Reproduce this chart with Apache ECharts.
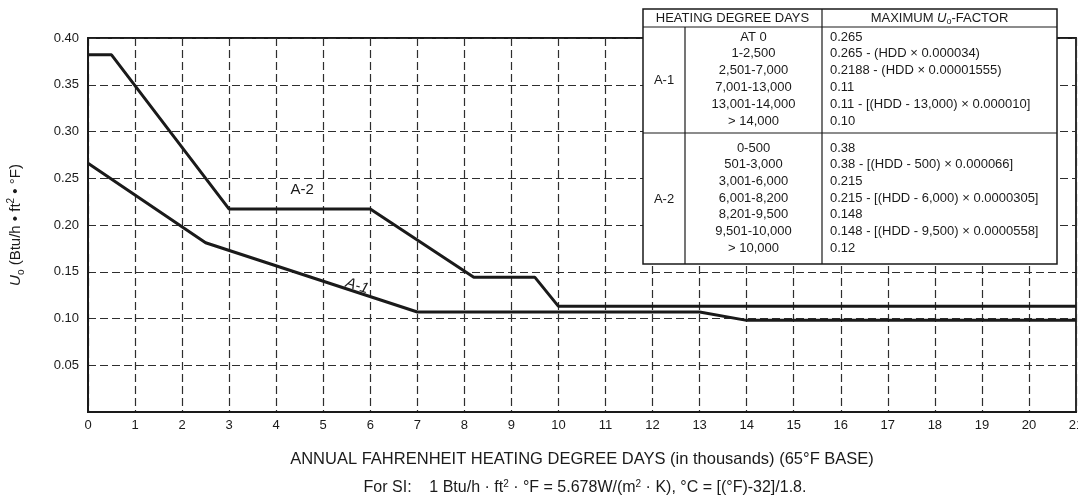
<!DOCTYPE html>
<html>
<head>
<meta charset="utf-8">
<script src="https://cdn.jsdelivr.net/npm/echarts@6/dist/echarts.min.js"></script>
<style>
html,body{margin:0;padding:0;background:#fff;}
#chart{width:1078px;height:499px;}
</style>
</head>
<body>
<div id="chart"></div>
<script>
// ---- data ----
const xTicks = [0,1,2,3,4,5,6,7,8,9,10,11,12,13,14,15,16,17,18,19,20,21];
const yTicks = [0,0.05,0.10,0.15,0.20,0.25,0.30,0.35,0.40];

const a1X = [0, 2.5, 7, 13, 14, 21];
const a1Y = [0.266, 0.181, 0.107, 0.107, 0.098, 0.098];
const a2X = [0, 0.5, 3, 6, 8.2, 9.5, 10, 21];
const a2Y = [0.382, 0.382, 0.217, 0.217, 0.144, 0.144, 0.113, 0.113];

const labelA1 = {text: 'A-1', x: 5.72, y: 0.1348};
const labelA2 = {text: 'A-2', x: 4.55, y: 0.2374};

const a1Ranges = ['AT 0','1-2,500','2,501-7,000','7,001-13,000','13,001-14,000','> 14,000'];
const a1Factors = ['0.265','0.265 - (HDD × 0.000034)','0.2188 - (HDD × 0.00001555)','0.11','0.11 - [(HDD - 13,000) × 0.000010]','0.10'];
const a2Ranges = ['0-500','501-3,000','3,001-6,000','6,001-8,200','8,201-9,500','9,501-10,000','> 10,000'];
const a2Factors = ['0.38','0.38 - [(HDD - 500) × 0.000066]','0.215','0.215 - [(HDD - 6,000) × 0.0000305]','0.148','0.148 - [(HDD - 9,500) × 0.0000558]','0.12'];

const xTitle = 'ANNUAL FAHRENHEIT HEATING DEGREE DAYS (in thousands) (65°F BASE)';

// ---- chart ----
const FONT = '"Liberation Sans", Arial, Helvetica, sans-serif';
const INK = '#1a1a1a';
const chart = echarts.init(document.getElementById('chart'), null, {renderer: 'canvas'});

function zip(xs, ys){ return xs.map((x,i)=>[x, ys[i]]); }

const gridDash = {color: '#2e2e2e', width: 1.2, type: [8, 4]};

// table geometry (layout only)
const T = {l: 643, t: 9, r: 1057, b: 264, hdr: 27, c1: 685, c2: 822, mid: 133};
const TF = '13px ' + FONT;
const tbl = [];
tbl.push({type:'rect', z:100, shape:{x:T.l, y:T.t, width:T.r-T.l, height:T.b-T.t}, style:{fill:'#fff', stroke:INK, lineWidth:1.5}});
tbl.push({type:'line', z:101, shape:{x1:T.l, y1:T.hdr, x2:T.r, y2:T.hdr}, style:{stroke:INK, lineWidth:1.2}});
tbl.push({type:'line', z:101, shape:{x1:T.l, y1:T.mid, x2:T.r, y2:T.mid}, style:{stroke:INK, lineWidth:1.2}});
tbl.push({type:'line', z:101, shape:{x1:T.c2, y1:T.t, x2:T.c2, y2:T.b}, style:{stroke:INK, lineWidth:1.2}});
tbl.push({type:'line', z:101, shape:{x1:T.c1, y1:T.hdr, x2:T.c1, y2:T.b}, style:{stroke:INK, lineWidth:1.2}});
function txt(t, x, y, align){
  return {type:'text', z:102, style:{text:t, x:x, y:y, fill:INK, font:TF, textAlign:align||'center', textVerticalAlign:'middle'}};
}
tbl.push(txt('HEATING DEGREE DAYS', (T.l+T.c2)/2, 18.5));
tbl.push({type:'text', z:102, style:{text:'{n|MAXIMUM }{i|U}{s|o}{n|-FACTOR}', x:(T.c2+T.r)/2, y:18.5, fill:INK, textAlign:'center', textVerticalAlign:'middle',
  rich:{n:{font:TF, fill:INK, lineHeight:16}, i:{font:'italic '+TF, fill:INK, lineHeight:16}, s:{font:'9px '+FONT, fill:INK, lineHeight:9, verticalAlign:'bottom'}}}});
tbl.push(txt('A-1', (T.l+T.c1)/2, 80));
tbl.push(txt('A-2', (T.l+T.c1)/2, 199));
a1Ranges.forEach((r,i)=>{ tbl.push(txt(r, (T.c1+T.c2)/2, 37 + i*16.8)); tbl.push(txt(a1Factors[i], 830, 37 + i*16.8, 'left')); });
a2Ranges.forEach((r,i)=>{ tbl.push(txt(r, (T.c1+T.c2)/2, 148 + i*16.7)); tbl.push(txt(a2Factors[i], 830, 148 + i*16.7, 'left')); });

// SI note
tbl.push({type:'text', z:50, style:{
  text:'{n|For SI:    1 Btu/h · ft}{p|2}{n| · °F = 5.678W/(m}{p|2}{n| · K), °C = [(°F)-32]/1.8.}',
  x: 585, y: 488, textAlign:'center', textVerticalAlign:'middle',
  rich:{n:{font:'16px '+FONT, fill:INK, lineHeight:18}, p:{font:'10px '+FONT, fill:INK, lineHeight:10, verticalAlign:'top'}}}});

const option = {
  backgroundColor: '#fff',
  animation: false,
  textStyle: {fontFamily: FONT},
  grid: {left: 88, right: 2, top: 38, bottom: 87, containLabel: false, outerBoundsMode: 'none',
         show: true, borderColor: INK, borderWidth: 1.8, backgroundColor: 'transparent'},
  xAxis: {
    type: 'value', min: xTicks[0], max: xTicks[xTicks.length-1], interval: 1,
    axisLine: {show: true, lineStyle: {color: INK, width: 2}},
    axisTick: {show: false},
    axisLabel: {color: INK, fontSize: 13, margin: 7, fontFamily: FONT, showMaxLabel: true, showMinLabel: true},
    splitLine: {show: true, lineStyle: gridDash},
    name: xTitle, nameLocation: 'middle', nameGap: 39,
    nameTextStyle: {color: INK, fontSize: 16.5, fontFamily: FONT}
  },
  yAxis: {
    type: 'value', min: yTicks[0], max: yTicks[yTicks.length-1], interval: 0.05,
    axisLine: {show: true, lineStyle: {color: INK, width: 2}},
    axisTick: {show: false},
    axisLabel: {color: INK, fontSize: 13, margin: 9, fontFamily: FONT,
      formatter: v => (Math.abs(v) < 1e-9 ? '' : v.toFixed(2))},
    splitLine: {show: true, lineStyle: gridDash},
    name: '{i|U}{s|o}{n| (Btu/h • ft}{p|2}{n| • °F)}', nameLocation: 'middle', nameRotate: 90, nameGap: 62,
    nameTextStyle: {color: INK, fontFamily: FONT,
      rich: {
        n: {fontSize: 15, color: INK, lineHeight: 20, fontFamily: FONT},
        i: {fontSize: 15, color: INK, lineHeight: 20, fontStyle: 'italic', fontFamily: FONT},
        s: {fontSize: 10, color: INK, lineHeight: 10, verticalAlign: 'bottom', fontFamily: FONT},
        p: {fontSize: 10, color: INK, lineHeight: 10, verticalAlign: 'top', fontFamily: FONT}
      }}
  },
  series: [
    {
      name: 'A-1', type: 'line', data: zip(a1X, a1Y), symbol: 'none', z: 5,
      lineStyle: {color: INK, width: 3}, smooth: false,
      markPoint: {symbol: 'circle', symbolSize: 1, itemStyle: {color: 'rgba(0,0,0,0)'},
        label: {show: true, position: 'inside', formatter: labelA1.text, color: INK, fontSize: 15, fontStyle: 'italic', rotate: -17, fontFamily: FONT},
        data: [{coord: [labelA1.x, labelA1.y]}]}
    },
    {
      name: 'A-2', type: 'line', data: zip(a2X, a2Y), symbol: 'none', z: 5,
      lineStyle: {color: INK, width: 3}, smooth: false,
      markPoint: {symbol: 'circle', symbolSize: 1, itemStyle: {color: 'rgba(0,0,0,0)'},
        label: {show: true, position: 'inside', formatter: labelA2.text, color: INK, fontSize: 15, fontFamily: FONT},
        data: [{coord: [labelA2.x, labelA2.y]}]}
    }
  ],
  graphic: {elements: tbl}
};
chart.setOption(option);
</script>
</body>
</html>
